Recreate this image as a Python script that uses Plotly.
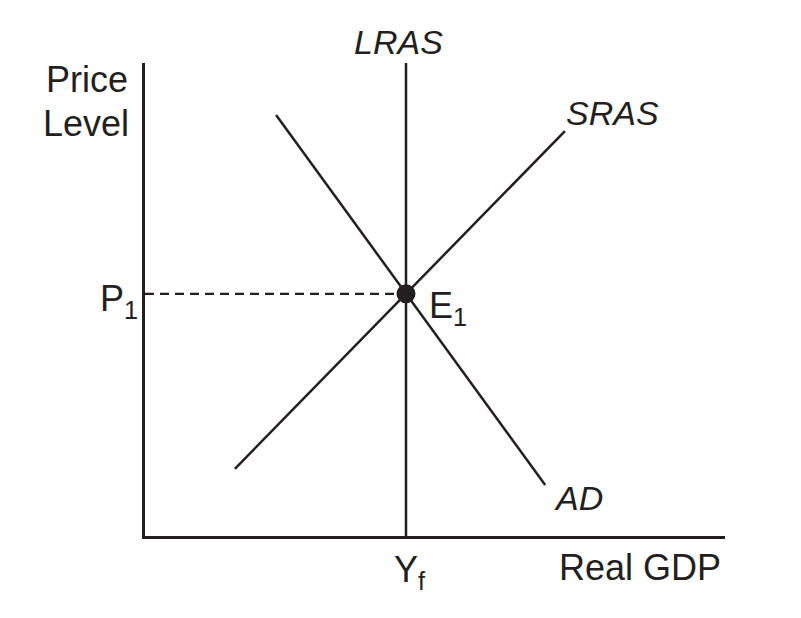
import plotly.graph_objects as go

# ---- data (abstract units: x 0..10 Real GDP, y 0..10 Price level) ----
y_full = 4.5          # Yf
p1 = 5.12             # P1
sras_x = [1.55, 7.24]
sras_y = [1.42, 8.56]
ad_x = [2.26, 6.90]
ad_y = [8.90, 1.08]
lras_y = [0, 10]

OFF = 8                      # default page body margin
W, H = 801 - OFF, 618 - OFF  # figure size
# plot area in page pixels: x 145..725, y 63..536
L, T = 145 - OFF, 63 - OFF
R, B = 801 - 725, 618 - 536
pw, ph = W - L - R, H - T - B

def fx(px):  # page pixel -> paper fraction
    return (px - OFF - L) / pw

def fy(py):
    return (H - B - (py - OFF)) / ph

FONT = "Liberation Sans, Arial, sans-serif"
INK = "#231f20"

fig = go.Figure()
fig.add_trace(go.Scatter(x=[0, y_full], y=[p1, p1], mode="lines",
                         line=dict(color=INK, width=2.2, dash="9px,6px"), hoverinfo="skip"))
fig.add_trace(go.Scatter(x=[y_full, y_full], y=lras_y, mode="lines",
                         line=dict(color=INK, width=2.5), hoverinfo="skip"))
fig.add_trace(go.Scatter(x=sras_x, y=sras_y, mode="lines",
                         line=dict(color=INK, width=2.5), hoverinfo="skip"))
fig.add_trace(go.Scatter(x=ad_x, y=ad_y, mode="lines",
                         line=dict(color=INK, width=2.5), hoverinfo="skip"))
fig.add_trace(go.Scatter(x=[y_full], y=[p1], mode="markers",
                         marker=dict(color=INK, size=19), hoverinfo="skip"))

def ann(text, px, py, size=36, italic=False, xanchor="center"):
    fig.add_annotation(x=fx(px), y=fy(py), xref="paper", yref="paper", text=text,
                       showarrow=False, xanchor=xanchor, yanchor="middle",
                       font=dict(family=FONT, size=size, color=INK,
                                 style="italic" if italic else "normal"))

ann("Price", 130, 79, xanchor="right")
ann("Level", 131, 123, xanchor="right")
ann("LRAS", 398, 42, size=34, italic=True)
ann("SRAS", 612, 113, size=34, italic=True)
ann("AD", 578, 498, size=34, italic=True)
ann("Real GDP", 640, 567)
ann("Y<sub>f</sub>", 410, 572)
ann("P<sub>1</sub>", 119, 301)
ann("E<sub>1</sub>", 448, 308)

fig.update_xaxes(range=[0, 10], showgrid=False, zeroline=False, showticklabels=False,
                 ticks="", showline=True, linecolor=INK, linewidth=3, fixedrange=True)
fig.update_yaxes(range=[0, 10], showgrid=False, zeroline=False, showticklabels=False,
                 ticks="", showline=True, linecolor=INK, linewidth=3, fixedrange=True)
fig.update_layout(width=W, height=H, margin=dict(l=L, r=R, t=T, b=B),
                  paper_bgcolor="white", plot_bgcolor="white", showlegend=False)
fig.write_html("out.html")
